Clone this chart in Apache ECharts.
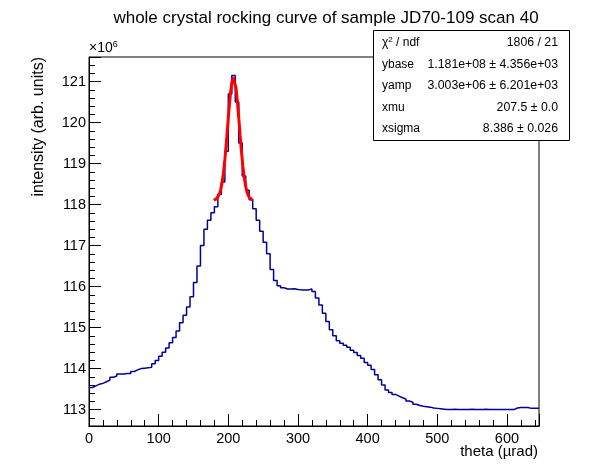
<!DOCTYPE html>
<html>
<head>
<meta charset="utf-8">
<script src="https://cdn.jsdelivr.net/npm/echarts@6/dist/echarts.min.js"></script>
<style>html,body{margin:0;padding:0;background:#fff}#c{width:598px;height:474px}</style>
</head>
<body>
<div id="c"></div>
<script>
// ---- data ----
const binWidth = 5;
const xMax = 646;
// histogram contents (x10^6), one per 5-unit bin starting at theta = 0
const counts = [
 113.54,113.58,113.62,113.64,113.68,113.72,113.79,113.82,113.87,113.87,
 113.88,113.88,113.93,113.97,114.00,114.01,114.02,114.03,114.12,114.20,
 114.30,114.40,114.50,114.63,114.76,114.92,115.12,115.30,115.50,115.75,
 116.10,116.50,117.00,117.40,117.62,117.80,117.95,118.25,118.55,119.30,
 120.70,121.15,120.50,119.50,118.70,118.35,118.12,117.90,117.62,117.35,
 117.08,116.80,116.42,116.15,116.02,115.97,115.94,115.94,115.95,115.93,
 115.92,115.92,115.92,115.94,115.88,115.72,115.55,115.35,115.15,114.95,
 114.80,114.68,114.62,114.57,114.52,114.45,114.39,114.32,114.25,114.15,
 114.08,113.98,113.85,113.73,113.60,113.48,113.42,113.37,113.33,113.29,
 113.26,113.21,113.18,113.13,113.10,113.08,113.07,113.06,113.04,113.03,
 113.02,113.01,113.00,113.00,113.01,113.00,113.00,113.00,113.00,113.01,
 113.00,113.00,113.00,113.01,113.00,113.00,113.00,113.00,113.00,113.00,
 113.00,113.00,113.04,113.05,113.05,113.05,113.03,113.03,113.03
];
// fitted gaussian curve read along the peak (theta, value x10^6)
const fitX = [179,181,183,185,187,189,191,193,195,197,199,201,203,205,207,207.5,209,211,213,215,217,219,221,223,225,227,229,231,233,235];
const fitY = [118.11,118.12,118.14,118.18,118.25,118.36,118.53,118.77,119.09,119.47,119.90,120.32,120.70,120.97,121.10,121.10,121.06,120.85,120.52,120.11,119.68,119.27,118.92,118.64,118.44,118.30,118.21,118.16,118.13,118.11];
const statLabels = ['χ{sup|2} / ndf', 'ybase', 'yamp', 'xmu', 'xsigma'];
const statValues = ['1806 / 21', '1.181e+08 ± 4.356e+03', '3.003e+06 ± 6.201e+03', '207.5 ± 0.0', '8.386 ± 0.026'];
const titleText = 'whole crystal rocking curve of sample JD70-109 scan 40';
const xTitle = 'theta (\u00b5rad)';
const yTitle = 'intensity (arb. units)';

// ---- build ----
const histData = counts.map((v, i) => [i * binWidth, v]);
histData.push([xMax, counts[counts.length - 1]]);
const fitData = fitX.map((x, i) => [x, fitY[i]]);

const FONT = 'Liberation Sans, Arial, Helvetica, sans-serif';
const black = '#000';
function intLabel(step) {
  return v => {
    const r = Math.round(v / step) * step;
    return Math.abs(v - r) < 1e-6 ? String(Math.round(r)) : '';
  };
}
const baseAxis = {
  type: 'value',
  axisLine: { show: true, lineStyle: { color: black, width: 1 } },
  splitLine: { show: false },
};
const chart = echarts.init(document.getElementById('c'), null, { renderer: 'canvas' });

const statGraphics = [{
  type: 'rect', left: 373, top: 30, z: 100,
  shape: { width: 196, height: 110 },
  style: { fill: '#fff', stroke: black, lineWidth: 1 }
}];
statLabels.forEach((lab, i) => {
  const y = 43 + i * 21.5;
  statGraphics.push({
    type: 'text', x: 382, y: y, z: 101,
    style: { text: lab, font: '12px ' + FONT, fill: black, verticalAlign: 'middle', align: 'left',
      rich: { sup: { fontSize: 8, verticalAlign: 'top', padding: [0, 0, 6, 0], fontFamily: FONT } } }
  });
  statGraphics.push({
    type: 'text', x: 558, y: y, z: 101,
    style: { text: statValues[i], font: '12.3px ' + FONT, fill: black, verticalAlign: 'middle', align: 'right' }
  });
});

chart.setOption({
  animation: false,
  backgroundColor: '#fff',
  title: {
    text: titleText, left: 321, top: 5, textAlign: 'center',
    textStyle: { fontFamily: FONT, fontSize: 17, fontWeight: 'normal', color: black }
  },
  grid: { left: 89, top: 57, right: 59, bottom: 48, show: true, borderColor: black, borderWidth: 1,
    backgroundColor: 'transparent', containLabel: false, outerBoundsMode: 'none' },
  xAxis: [
    Object.assign({}, baseAxis, {
      min: 0, max: xMax, interval: 20, position: 'bottom',
      axisTick: { show: true, inside: true, length: 6, lineStyle: { color: black } },
      axisLabel: { show: false }
    }),
    Object.assign({}, baseAxis, {
      min: 0, max: xMax, interval: 100, position: 'bottom',
      axisTick: { show: true, inside: true, length: 12, lineStyle: { color: black } },
      axisLabel: { show: true, formatter: intLabel(100), color: black, fontFamily: FONT, fontSize: 14.5, margin: 5 }
    })
  ],
  yAxis: [
    Object.assign({}, baseAxis, {
      min: 112.6, max: 121.6, interval: 0.2, position: 'left',
      axisTick: { show: true, inside: true, length: 6, lineStyle: { color: black } },
      axisLabel: { show: false }
    }),
    Object.assign({}, baseAxis, {
      min: 112.6, max: 121.6, splitNumber: 9, position: 'left',
      axisTick: { show: true, inside: true, length: 12, lineStyle: { color: black } },
      axisLabel: { show: true, formatter: intLabel(1), color: black, fontFamily: FONT, fontSize: 14.5, margin: 3 }
    })
  ],
  graphic: [
    {
      type: 'text', x: 89, y: 57, z: 50,
      style: { text: '×10{sup|6}', font: '14px ' + FONT, fill: black, verticalAlign: 'bottom', align: 'left',
        rich: { sup: { fontSize: 9, verticalAlign: 'top', padding: [0, 0, 8, 0], fontFamily: FONT } } }
    },
    {
      type: 'text', x: 39, y: 57, rotation: Math.PI / 2, z: 50,
      style: { text: yTitle, font: '16px ' + FONT, fill: black, align: 'right', verticalAlign: 'middle' }
    },
    {
      type: 'text', x: 538, y: 452, z: 50,
      style: { text: xTitle, font: '15px ' + FONT, fill: black, align: 'right', verticalAlign: 'middle' }
    }
  ].concat(statGraphics),
  series: [
    {
      type: 'line', xAxisIndex: 1, yAxisIndex: 1, data: histData, step: 'end',
      symbol: 'none', lineStyle: { color: '#000099', width: 1.5 }, z: 3, clip: true
    },
    {
      type: 'line', xAxisIndex: 1, yAxisIndex: 1, data: fitData,
      symbol: 'none', lineStyle: { color: '#ff0000', width: 3 }, z: 4
    }
  ]
});
</script>
</body>
</html>
